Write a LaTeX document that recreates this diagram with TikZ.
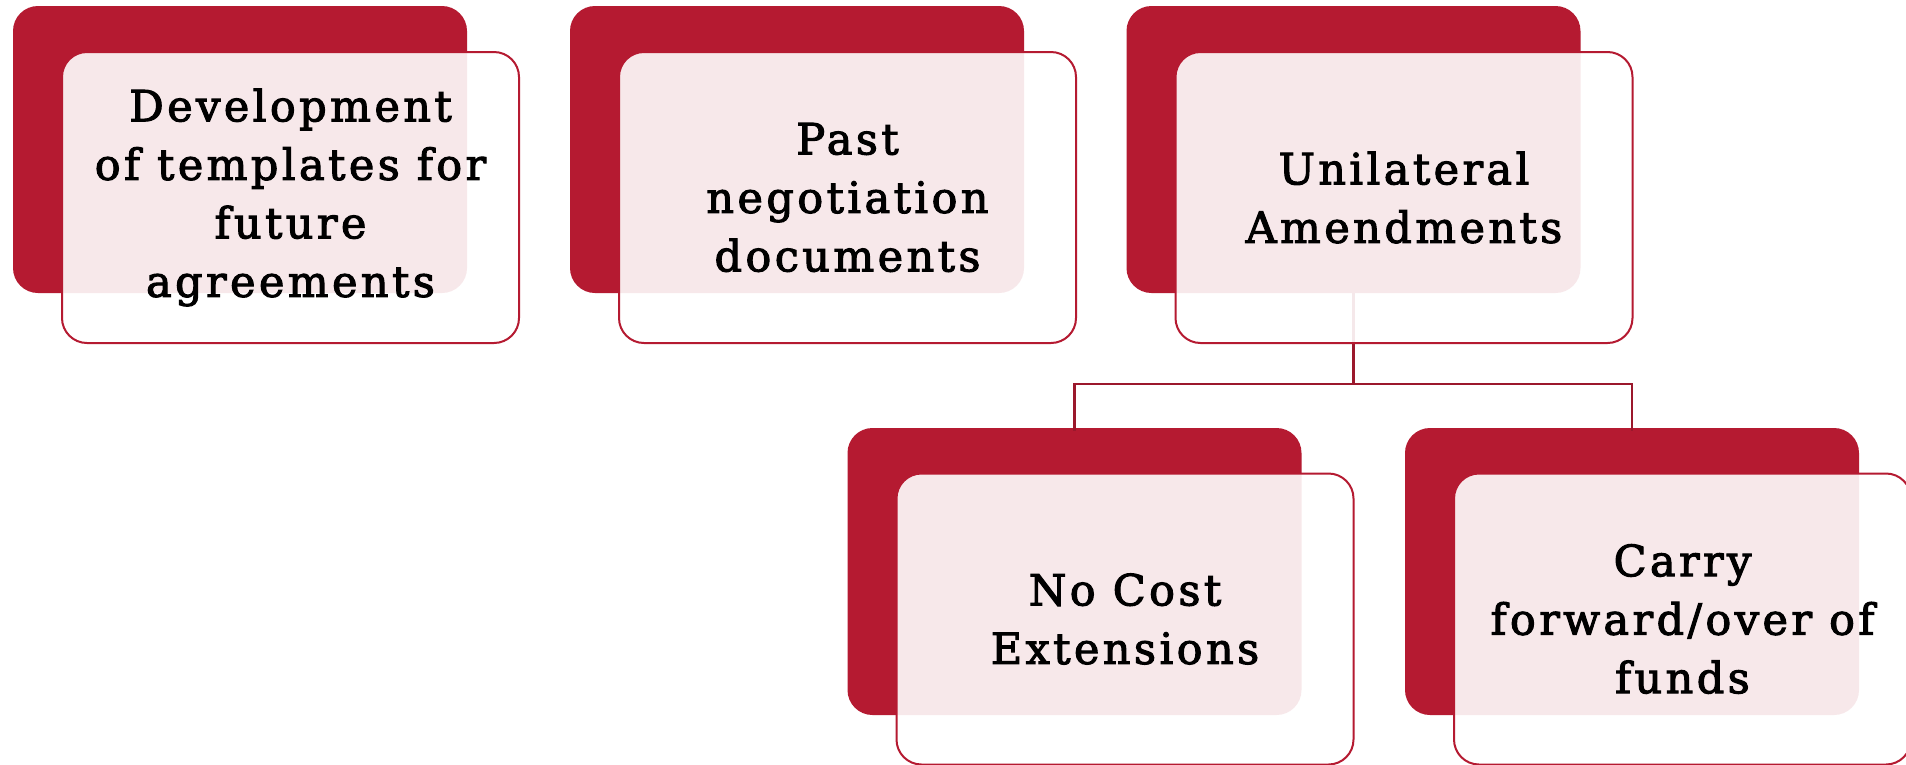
\documentclass[tikz,border=0pt]{standalone}
\usepackage{fontspec}
\setmainfont{DejaVu Serif}[LetterSpace=8,FakeBold=2.5]
\definecolor{boxred}{RGB}{181,26,49}
\definecolor{linered}{RGB}{155,24,44}
\tikzset{
  backbox/.style={rectangle, rounded corners=25pt, fill=boxred, minimum width=454pt, minimum height=287pt, inner sep=0pt},
  frontbox/.style={rectangle, rounded corners=25pt, fill=white, fill opacity=0.9, text opacity=1, draw=boxred, line width=2pt, minimum width=457pt, minimum height=291pt, inner sep=0pt, align=center, font=\fontsize{43}{58.5}\selectfont},
  conn/.style={draw=linered, line width=2.5pt}
}
\begin{document}
\begin{tikzpicture}[x=1pt,y=-1pt]
\useasboundingbox (0,0) rectangle (1906,764);
\fill[white] (0,0) rectangle (1906,764);
% back boxes
\node[backbox] (r1) at (240,149.5) {};
\node[backbox] (r2) at (797,149.5) {};
\node[backbox] (r3) at (1353.5,149.5) {};
\node[backbox] (r4) at (1074.5,571.5) {};
\node[backbox] (r5) at (1632,571.5) {};
% connectors
\draw[conn] (r3.south) -- ++(0,91) coordinate (j) -| ([yshift=-3pt]r4.north);
\draw[conn] (j) -| ([yshift=-3pt]r5.north);
% front boxes
\node[frontbox] (f1) at (290.5,197.5) {Development\\of templates for\\future\\agreements};
\node[frontbox] (f2) at (847.5,197.5) {Past\\negotiation\\documents};
\node[frontbox] (f3) at (1404,197.5) {Unilateral\\Amendments};
\node[frontbox] (f4) at (1125,619) {No Cost\\Extensions};
\node[frontbox] (f5) at (1682.5,619) {Carry\\forward/over of\\funds};
\end{tikzpicture}
\end{document}
